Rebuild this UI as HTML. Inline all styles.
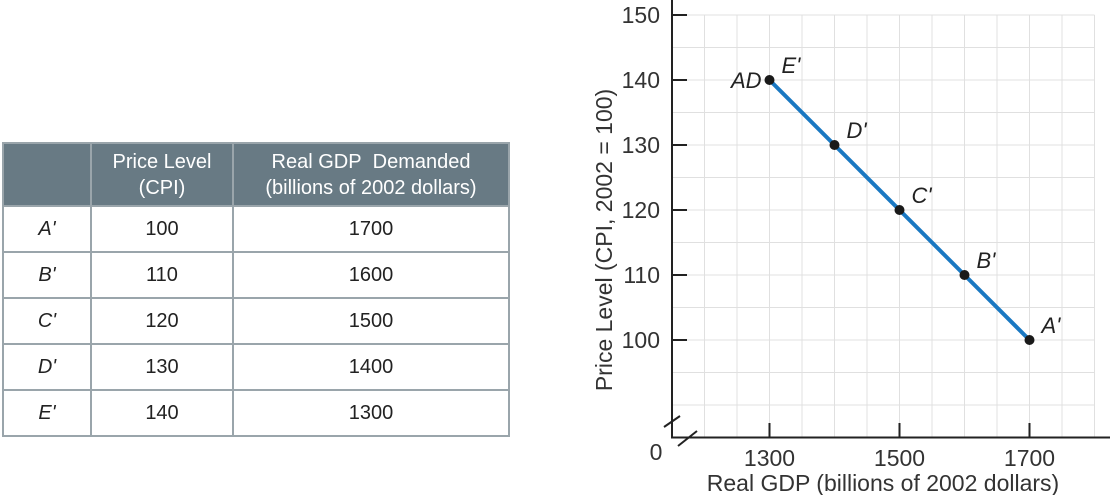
<!DOCTYPE html>
<html><head><meta charset="utf-8"><style>
body{margin:0;width:1110px;height:495px;background:#fff;font-family:"Liberation Sans",sans-serif;position:relative;overflow:hidden}
table{position:absolute;left:2px;top:142px;border-collapse:collapse;color:#222}
td,th{border:2px solid #9aa5ab;text-align:center;font-size:20px;padding:0}
th{background:#687a84;color:#fff;font-weight:normal;height:61px;border-color:#9aa5ab;line-height:26px}
td{height:44px}
td.l{font-style:italic}
</style></head><body>
<table>
<tr><th style="width:86px"></th><th style="width:140px">Price Level<br>(CPI)</th><th style="width:274px">Real GDP&nbsp; Demanded<br>(billions of 2002 dollars)</th></tr>
<tr><td class="l">A'</td><td>100</td><td>1700</td></tr>
<tr><td class="l">B'</td><td>110</td><td>1600</td></tr>
<tr><td class="l">C'</td><td>120</td><td>1500</td></tr>
<tr><td class="l">D'</td><td>130</td><td>1400</td></tr>
<tr><td class="l">E'</td><td>140</td><td>1300</td></tr>
</table>
<svg id="chart" width="1110" height="495" style="position:absolute;left:0;top:0"></svg>
<script>
const gdp=[1700,1600,1500,1400,1300];
const price=[100,110,120,130,140];
const pointLabels=["A'","B'","C'","D'","E'"];
const yTicks=[100,110,120,130,140,150];
const xTicks=[1300,1500,1700];
const X=v=>672+(v-1150)*0.65;
const Y=v=>15+(150-v)*6.5;
const svg=document.getElementById('chart');
const NS='http://www.w3.org/2000/svg';
function mk(t,a,txt){const e=document.createElementNS(NS,t);for(const k in a)e.setAttribute(k,a[k]);if(txt!==undefined)e.textContent=txt;svg.appendChild(e);return e;}
for(let v=1200;v<=1800;v+=50){const g=mk('line',{x1:X(v),x2:X(v),y1:15,y2:437,stroke:'#e0e0e0','stroke-width':1});

}
for(let v=85;v<=150;v+=5){const g=mk('line',{x1:672,x2:X(1800),y1:Y(v),y2:Y(v),stroke:'#e0e0e0','stroke-width':1});

}
const ya=mk('line',{x1:672,x2:672,y1:0,y2:438,stroke:'#222','stroke-width':2});


const xa=mk('line',{x1:671,x2:1110,y1:437.5,y2:437.5,stroke:'#222','stroke-width':2});


mk('line',{x1:664,x2:680,y1:427,y2:416,stroke:'#222','stroke-width':2});
mk('line',{x1:678,x2:697,y1:446,y2:431,stroke:'#222','stroke-width':2});
for(const t of yTicks){mk('line',{x1:672,x2:687,y1:Y(t),y2:Y(t),stroke:'#222','stroke-width':2});
const l=mk('text',{x:660,y:Y(t)+8,'text-anchor':'end','font-size':23,fill:'#333'},t);

}
for(const t of xTicks){mk('line',{x1:X(t),x2:X(t),y1:423,y2:437,stroke:'#222','stroke-width':2});
const l=mk('text',{x:X(t),y:466,'text-anchor':'middle','font-size':23,fill:'#333'},t);

}
mk('text',{x:656,y:460,'text-anchor':'middle','font-size':23,fill:'#333'},'0');
const xt=mk('text',{x:883,y:491,'text-anchor':'middle','font-size':23,fill:'#333'},'Real GDP (billions of 2002 dollars)');


const yt=mk('text',{x:0,y:0,'text-anchor':'middle','font-size':23,fill:'#333',transform:'translate(612,240) rotate(-90)'},'Price Level (CPI, 2002 = 100)');


const ln=mk('polyline',{points:gdp.map((g,i)=>X(g)+','+Y(price[i])).join(' '),fill:'none',stroke:'#1a78c2','stroke-width':4});


gdp.forEach((g,i)=>{const c=mk('circle',{cx:X(g),cy:Y(price[i]),r:5,fill:'#1a1a1a'});


const t=mk('text',{x:X(g)+12,y:Y(price[i])-7,'font-size':22,'font-style':'italic',fill:'#222'},pointLabels[i]);

});
const ad=mk('text',{x:X(1300)-8,y:Y(140)+8,'text-anchor':'end','font-size':22,'font-style':'italic',fill:'#222'},'AD');


</script>
</body></html>
